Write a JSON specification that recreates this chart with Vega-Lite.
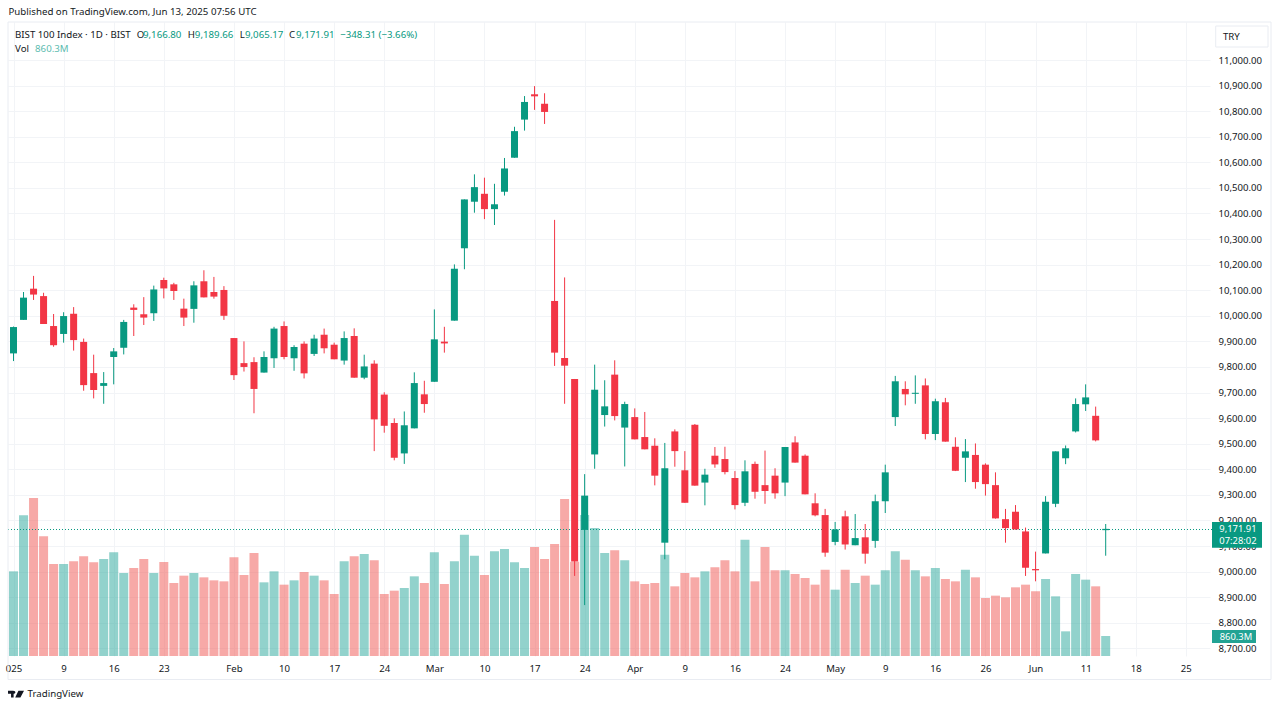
{
  "$schema": "https://vega.github.io/schema/vega-lite/v6.json",
  "width": 1202,
  "height": 634,
  "autosize": "none",
  "padding": {"left": 8, "top": 22, "right": 70, "bottom": 53},
  "background": "#ffffff",
  "config": {"view": {"stroke": null}, "font": "Noto Sans"},
  "datasets": {
    "bars": [
      {"i":0,"o":9853,"h":9958,"l":9823,"c":9956,"v":3642,"d":"up"},
      {"i":1,"o":9984,"h":10093,"l":9984,"c":10071,"v":6051,"d":"up"},
      {"i":2,"o":10106,"h":10156,"l":10062,"c":10083,"v":6797,"d":"down"},
      {"i":3,"o":10077,"h":10090,"l":9968,"c":9968,"v":5148,"d":"down"},
      {"i":4,"o":9960,"h":10007,"l":9879,"c":9885,"v":3958,"d":"down"},
      {"i":5,"o":9929,"h":10014,"l":9895,"c":9999,"v":3958,"d":"up"},
      {"i":6,"o":10008,"h":10034,"l":9864,"c":9905,"v":4073,"d":"down"},
      {"i":7,"o":9898,"h":9911,"l":9707,"c":9729,"v":4288,"d":"down"},
      {"i":8,"o":9776,"h":9848,"l":9677,"c":9710,"v":4030,"d":"down"},
      {"i":9,"o":9726,"h":9780,"l":9656,"c":9737,"v":4173,"d":"up"},
      {"i":10,"o":9839,"h":9874,"l":9732,"c":9861,"v":4460,"d":"up"},
      {"i":11,"o":9875,"h":9984,"l":9849,"c":9976,"v":3571,"d":"up"},
      {"i":12,"o":10032,"h":10045,"l":9921,"c":10023,"v":3786,"d":"down"},
      {"i":13,"o":10006,"h":10073,"l":9964,"c":9993,"v":4173,"d":"down"},
      {"i":14,"o":10010,"h":10118,"l":9980,"c":10103,"v":3571,"d":"up"},
      {"i":15,"o":10140,"h":10149,"l":10068,"c":10107,"v":4044,"d":"down"},
      {"i":16,"o":10123,"h":10129,"l":10062,"c":10097,"v":3140,"d":"down"},
      {"i":17,"o":10028,"h":10067,"l":9960,"c":9993,"v":3456,"d":"down"},
      {"i":18,"o":10027,"h":10135,"l":9973,"c":10119,"v":3571,"d":"up"},
      {"i":19,"o":10135,"h":10178,"l":10072,"c":10072,"v":3384,"d":"down"},
      {"i":20,"o":10093,"h":10152,"l":10067,"c":10075,"v":3255,"d":"down"},
      {"i":21,"o":10101,"h":10116,"l":9984,"c":10000,"v":3212,"d":"down"},
      {"i":22,"o":9913,"h":9913,"l":9749,"c":9768,"v":4245,"d":"down"},
      {"i":23,"o":9815,"h":9900,"l":9782,"c":9800,"v":3485,"d":"down"},
      {"i":24,"o":9819,"h":9838,"l":9619,"c":9714,"v":4431,"d":"down"},
      {"i":25,"o":9778,"h":9861,"l":9778,"c":9839,"v":3169,"d":"up"},
      {"i":26,"o":9834,"h":9957,"l":9796,"c":9950,"v":3642,"d":"up"},
      {"i":27,"o":9960,"h":9978,"l":9830,"c":9839,"v":3069,"d":"down"},
      {"i":28,"o":9834,"h":9885,"l":9785,"c":9878,"v":3255,"d":"up"},
      {"i":29,"o":9891,"h":9900,"l":9755,"c":9775,"v":3614,"d":"down"},
      {"i":30,"o":9851,"h":9926,"l":9843,"c":9911,"v":3456,"d":"up"},
      {"i":31,"o":9926,"h":9950,"l":9853,"c":9873,"v":3255,"d":"down"},
      {"i":32,"o":9887,"h":9895,"l":9830,"c":9830,"v":2667,"d":"down"},
      {"i":33,"o":9825,"h":9939,"l":9809,"c":9913,"v":4073,"d":"up"},
      {"i":34,"o":9921,"h":9951,"l":9758,"c":9758,"v":4288,"d":"down"},
      {"i":35,"o":9758,"h":9848,"l":9752,"c":9802,"v":4388,"d":"up"},
      {"i":36,"o":9813,"h":9826,"l":9471,"c":9595,"v":4116,"d":"down"},
      {"i":37,"o":9692,"h":9701,"l":9543,"c":9570,"v":2667,"d":"down"},
      {"i":38,"o":9581,"h":9599,"l":9435,"c":9445,"v":2811,"d":"down"},
      {"i":39,"o":9462,"h":9626,"l":9421,"c":9572,"v":2925,"d":"up"},
      {"i":40,"o":9560,"h":9779,"l":9560,"c":9737,"v":3427,"d":"up"},
      {"i":41,"o":9693,"h":9746,"l":9621,"c":9655,"v":3140,"d":"down"},
      {"i":42,"o":9742,"h":10025,"l":9742,"c":9908,"v":4460,"d":"up"},
      {"i":43,"o":9899,"h":9957,"l":9856,"c":9892,"v":3097,"d":"down"},
      {"i":44,"o":9981,"h":10201,"l":9981,"c":10184,"v":4073,"d":"up"},
      {"i":45,"o":10264,"h":10455,"l":10182,"c":10455,"v":5220,"d":"up"},
      {"i":46,"o":10446,"h":10553,"l":10403,"c":10503,"v":4316,"d":"up"},
      {"i":47,"o":10477,"h":10540,"l":10378,"c":10417,"v":3485,"d":"down"},
      {"i":48,"o":10417,"h":10516,"l":10355,"c":10436,"v":4503,"d":"up"},
      {"i":49,"o":10485,"h":10617,"l":10470,"c":10576,"v":4603,"d":"up"},
      {"i":50,"o":10618,"h":10739,"l":10618,"c":10722,"v":4030,"d":"up"},
      {"i":51,"o":10767,"h":10859,"l":10724,"c":10836,"v":3786,"d":"up"},
      {"i":52,"o":10866,"h":10898,"l":10805,"c":10858,"v":4689,"d":"down"},
      {"i":53,"o":10829,"h":10870,"l":10750,"c":10797,"v":4173,"d":"down"},
      {"i":54,"o":10058,"h":10375,"l":9804,"c":9856,"v":4818,"d":"down"},
      {"i":55,"o":9835,"h":10150,"l":9656,"c":9805,"v":6754,"d":"down"},
      {"i":56,"o":9753,"h":9753,"l":8983,"c":9039,"v":4058,"d":"down"},
      {"i":57,"o":9163,"h":9381,"l":8869,"c":9297,"v":6066,"d":"up"},
      {"i":58,"o":9458,"h":9809,"l":9402,"c":9711,"v":5507,"d":"up"},
      {"i":59,"o":9612,"h":9748,"l":9567,"c":9646,"v":4431,"d":"up"},
      {"i":60,"o":9770,"h":9826,"l":9591,"c":9608,"v":4546,"d":"down"},
      {"i":61,"o":9563,"h":9664,"l":9411,"c":9655,"v":4116,"d":"up"},
      {"i":62,"o":9604,"h":9638,"l":9517,"c":9517,"v":3212,"d":"down"},
      {"i":63,"o":9526,"h":9624,"l":9478,"c":9478,"v":3097,"d":"down"},
      {"i":64,"o":9492,"h":9521,"l":9337,"c":9375,"v":3140,"d":"down"},
      {"i":65,"o":9113,"h":9503,"l":9048,"c":9404,"v":4359,"d":"up"},
      {"i":66,"o":9548,"h":9556,"l":9410,"c":9471,"v":2997,"d":"down"},
      {"i":67,"o":9396,"h":9471,"l":9269,"c":9269,"v":3571,"d":"down"},
      {"i":68,"o":9574,"h":9577,"l":9336,"c":9336,"v":3384,"d":"down"},
      {"i":69,"o":9348,"h":9402,"l":9259,"c":9379,"v":3642,"d":"up"},
      {"i":70,"o":9453,"h":9487,"l":9406,"c":9419,"v":3814,"d":"down"},
      {"i":71,"o":9440,"h":9488,"l":9380,"c":9389,"v":4116,"d":"down"},
      {"i":72,"o":9366,"h":9393,"l":9243,"c":9260,"v":3642,"d":"down"},
      {"i":73,"o":9269,"h":9435,"l":9256,"c":9392,"v":5005,"d":"up"},
      {"i":74,"o":9421,"h":9430,"l":9285,"c":9312,"v":3212,"d":"down"},
      {"i":75,"o":9338,"h":9473,"l":9265,"c":9315,"v":4689,"d":"down"},
      {"i":76,"o":9375,"h":9404,"l":9285,"c":9306,"v":3685,"d":"down"},
      {"i":77,"o":9348,"h":9487,"l":9295,"c":9487,"v":3685,"d":"up"},
      {"i":78,"o":9505,"h":9529,"l":9426,"c":9426,"v":3528,"d":"down"},
      {"i":79,"o":9453,"h":9458,"l":9302,"c":9302,"v":3356,"d":"down"},
      {"i":80,"o":9267,"h":9306,"l":9216,"c":9220,"v":3069,"d":"down"},
      {"i":81,"o":9221,"h":9245,"l":9058,"c":9074,"v":3714,"d":"down"},
      {"i":82,"o":9116,"h":9194,"l":9103,"c":9165,"v":2854,"d":"up"},
      {"i":83,"o":9216,"h":9238,"l":9086,"c":9106,"v":3714,"d":"down"},
      {"i":84,"o":9103,"h":9225,"l":9103,"c":9131,"v":3140,"d":"up"},
      {"i":85,"o":9134,"h":9186,"l":9031,"c":9070,"v":3456,"d":"down"},
      {"i":86,"o":9120,"h":9301,"l":9093,"c":9275,"v":3069,"d":"up"},
      {"i":87,"o":9275,"h":9418,"l":9229,"c":9388,"v":3685,"d":"up"},
      {"i":88,"o":9604,"h":9765,"l":9569,"c":9744,"v":4503,"d":"up"},
      {"i":89,"o":9714,"h":9744,"l":9650,"c":9693,"v":4144,"d":"down"},
      {"i":90,"o":9695,"h":9767,"l":9656,"c":9699,"v":3685,"d":"up"},
      {"i":91,"o":9728,"h":9755,"l":9517,"c":9538,"v":3427,"d":"down"},
      {"i":92,"o":9538,"h":9676,"l":9514,"c":9666,"v":3786,"d":"up"},
      {"i":93,"o":9662,"h":9679,"l":9508,"c":9508,"v":3313,"d":"down"},
      {"i":94,"o":9488,"h":9525,"l":9393,"c":9394,"v":3212,"d":"down"},
      {"i":95,"o":9445,"h":9518,"l":9350,"c":9470,"v":3714,"d":"up"},
      {"i":96,"o":9456,"h":9501,"l":9324,"c":9350,"v":3384,"d":"down"},
      {"i":97,"o":9418,"h":9423,"l":9297,"c":9342,"v":2495,"d":"down"},
      {"i":98,"o":9338,"h":9388,"l":9207,"c":9208,"v":2596,"d":"down"},
      {"i":99,"o":9205,"h":9245,"l":9113,"c":9170,"v":2524,"d":"down"},
      {"i":100,"o":9234,"h":9260,"l":9164,"c":9165,"v":2954,"d":"down"},
      {"i":101,"o":9157,"h":9172,"l":8983,"c":9015,"v":3069,"d":"down"},
      {"i":102,"o":9010,"h":9078,"l":8962,"c":9005,"v":2782,"d":"down"},
      {"i":103,"o":9071,"h":9295,"l":9071,"c":9273,"v":3313,"d":"up"},
      {"i":104,"o":9265,"h":9470,"l":9252,"c":9470,"v":2567,"d":"up"},
      {"i":105,"o":9443,"h":9493,"l":9420,"c":9482,"v":1061,"d":"up"},
      {"i":106,"o":9548,"h":9677,"l":9544,"c":9655,"v":3528,"d":"up"},
      {"i":107,"o":9654,"h":9732,"l":9628,"c":9681,"v":3284,"d":"up"},
      {"i":108,"o":9609,"h":9645,"l":9509,"c":9513,"v":2997,"d":"down"},
      {"i":109,"o":9162,"h":9186,"l":9062,"c":9167,"v":860.3,"d":"up"}
    ],
    "labels": [
      {"i":-0.5,"p":11187.7,"t":"Published on TradingView.com, Jun 13, 2025 07:56 UTC","d":"dark"},
      {"i":0.15,"p":11097.7,"t":"BIST 100 Index · 1D · BIST","d":"dark"},
      {"i":12.3,"p":11097.7,"t":"O","d":"dark"},
      {"i":12.92,"p":11097.7,"t":"9,166.80","d":"up"},
      {"i":17.4,"p":11097.7,"t":"H","d":"dark"},
      {"i":18.1,"p":11097.7,"t":"9,189.66","d":"up"},
      {"i":22.57,"p":11097.7,"t":"L","d":"dark"},
      {"i":23.1,"p":11097.7,"t":"9,065.17","d":"up"},
      {"i":27.5,"p":11097.7,"t":"C","d":"dark"},
      {"i":28.2,"p":11097.7,"t":"9,171.91","d":"up"},
      {"i":32.6,"p":11097.7,"t":"−348.31 (−3.66%)","d":"up"},
      {"i":0.15,"p":11043,"t":"Vol","d":"dark"},
      {"i":2.15,"p":11043,"t":"860.3M","d":"vol"},
      {"i":1.4,"p":8521,"t":"TradingView","d":"dark"},
      {"i":120.7,"p":11090,"t":"TRY","d":"dark"}
    ],
    "tags": [
      {"i":119.61,"i2":124.6,"p":9193.8,"p2":9093,"d":"up"},
      {"i":119.61,"i2":124.0,"p":8771.6,"p2":8720.7,"d":"volTag"}
    ],
    "tagText": [
      {"i":122.2,"p":9168,"t":"9,171.91"},
      {"i":122.2,"p":9120,"t":"07:28:02"},
      {"i":122.0,"p":8746,"t":"860.3M"}
    ],
    "frames": [
      {"i":-0.55,"i2":125.5,"p":11148.6,"p2":8578},
      {"i":119.98,"i2":125.2,"p":11132.9,"p2":11050.8}
    ],
    "priceLine": [{"i":-0.55,"i2":119.61,"p":9164.6}]
  },
  "encoding": {
    "x": {
      "field": "i",
      "type": "quantitative",
      "scale": {"domain": [-0.55, 119.41], "nice": false, "zero": false, "padding": 0},
      "axis": {
        "title": null,
        "values": [0,5,10,15,22,27,32,37,42,47,52,57,62,67,72,77,82,87,92,97,102,107,112,117],
        "tickCount": 30,
        "labelExpr": "({'0':'\u00a0\u00a0\u00a0025','5':'9','10':'16','15':'23','22':'Feb','27':'10','32':'17','37':'24','42':'Mar','47':'10','52':'17','57':'24','62':'Apr','67':'9','72':'16','77':'24','82':'May','87':'9','92':'16','97':'26','102':'Jun','107':'11','112':'18','117':'25'})[datum.value]",
        "domain": false,
        "ticks": false,
        "grid": true,
        "gridColor": "#f2f4f7",
        "gridWidth": 1,
        "labelFont": "Noto Sans",
        "labelFontSize": 9.6,
        "labelColor": "#131722",
        "labelPadding": 7,
        "labelOverlap": false,
        "labelBound": false,
        "labelFlush": false
      }
    }
  },
  "layer": [
    {
      "data": {"name": "bars"},
      "mark": {"type": "bar", "size": 9, "orient": "vertical", "opacity": 0.5},
      "encoding": {
        "y": {
          "field": "v",
          "type": "quantitative",
          "stack": null,
          "scale": {"domain": [0, 27275], "nice": false},
          "axis": null
        },
        "color": {
          "field": "d",
          "type": "nominal",
          "scale": {"domain": ["up", "down"], "range": ["#26a69a", "#ef5350"]},
          "legend": null
        }
      }
    },
    {
      "layer": [
        {
          "data": {"name": "priceLine"},
          "mark": {"type": "rule", "stroke": "#089981", "strokeDash": [1, 2], "strokeWidth": 1},
          "encoding": {
            "x2": {"field": "i2"},
            "y": {
              "field": "p",
              "type": "quantitative",
              "scale": {"domain": [8670, 11148.6], "nice": false, "zero": false},
              "axis": {
                "title": null,
                "orient": "right",
                "values": [8700,8800,8900,9000,9100,9200,9300,9400,9500,9600,9700,9800,9900,10000,10100,10200,10300,10400,10500,10600,10700,10800,10900,11000],
                "tickCount": 30,
                "format": ",.2f",
                "domain": false,
                "ticks": false,
                "grid": true,
                "gridColor": "#f2f4f7",
                "gridWidth": 1,
                "labelFont": "Noto Sans",
                "labelFontSize": 9.6,
                "labelColor": "#131722",
                "labelPadding": 8,
                "labelOverlap": false,
                "labelBound": false
              }
            }
          }
        },
        {
          "data": {"name": "bars"},
          "mark": {"type": "rule", "strokeWidth": 1},
          "encoding": {
            "y": {"field": "l", "type": "quantitative", "scale": {"domain": [8670, 11148.6], "nice": false, "zero": false}},
            "y2": {"field": "h"},
            "color": {
              "field": "d",
              "type": "nominal",
              "scale": {"domain": ["up", "down", "dark", "vol", "volTag"], "range": ["#089981", "#f23645", "#131722", "#5dbcb0", "#22a394"]},
              "legend": null
            }
          }
        },
        {
          "data": {"name": "bars"},
          "mark": {"type": "bar", "size": 7, "orient": "vertical"},
          "encoding": {
            "y": {"field": "o", "type": "quantitative", "scale": {"domain": [8670, 11148.6], "nice": false, "zero": false}},
            "y2": {"field": "c"},
            "color": {
              "field": "d",
              "type": "nominal",
              "scale": {"domain": ["up", "down", "dark", "vol", "volTag"], "range": ["#089981", "#f23645", "#131722", "#5dbcb0", "#22a394"]},
              "legend": null
            }
          }
        },
        {
          "data": {"name": "frames"},
          "mark": {"type": "rect", "fill": null, "stroke": "#e9ecf2", "strokeWidth": 1},
          "encoding": {
            "x2": {"field": "i2"},
            "y": {"field": "p", "type": "quantitative", "scale": {"domain": [8670, 11148.6], "nice": false, "zero": false}},
            "y2": {"field": "p2"}
          }
        },
        {
          "data": {"name": "tags"},
          "mark": {"type": "rect"},
          "encoding": {
            "x2": {"field": "i2"},
            "y": {"field": "p", "type": "quantitative", "scale": {"domain": [8670, 11148.6], "nice": false, "zero": false}},
            "y2": {"field": "p2"},
            "color": {
              "field": "d",
              "type": "nominal",
              "scale": {"domain": ["up", "down", "dark", "vol", "volTag"], "range": ["#089981", "#f23645", "#131722", "#5dbcb0", "#22a394"]},
              "legend": null
            }
          }
        },
        {
          "data": {"name": "tagText"},
          "mark": {"type": "text", "align": "center", "baseline": "middle", "font": "Noto Sans", "fontSize": 9.4, "color": "#ffffff"},
          "encoding": {
            "y": {"field": "p", "type": "quantitative", "scale": {"domain": [8670, 11148.6], "nice": false, "zero": false}},
            "text": {"field": "t"}
          }
        },
        {
          "data": {"name": "labels"},
          "mark": {"type": "text", "align": "left", "baseline": "middle", "font": "Noto Sans", "fontSize": 9.7},
          "encoding": {
            "y": {"field": "p", "type": "quantitative", "scale": {"domain": [8670, 11148.6], "nice": false, "zero": false}},
            "text": {"field": "t"},
            "color": {
              "field": "d",
              "type": "nominal",
              "scale": {"domain": ["up", "down", "dark", "vol", "volTag"], "range": ["#089981", "#f23645", "#131722", "#5dbcb0", "#22a394"]},
              "legend": null
            }
          }
        },
        {
          "data": {"values": [{"i": 0.25, "p": 8521}]},
          "mark": {
            "type": "point",
            "filled": true,
            "opacity": 1,
            "size": 256,
            "color": "#131722",
            "shape": "M-1,-0.42 H-0.3 V0.42 H-0.62 V-0.06 H-1 Z M-0.08,-0.22 A0.17,0.17 0 1 1 -0.08,-0.221 Z M0.3,-0.42 H1 L0.55,0.42 H-0.1 Z"
          },
          "encoding": {
            "y": {"field": "p", "type": "quantitative", "scale": {"domain": [8670, 11148.6], "nice": false, "zero": false}}
          }
        }
      ]
    }
  ],
  "resolve": {"scale": {"y": "independent", "color": "independent"}, "axis": {"y": "independent"}}
}
